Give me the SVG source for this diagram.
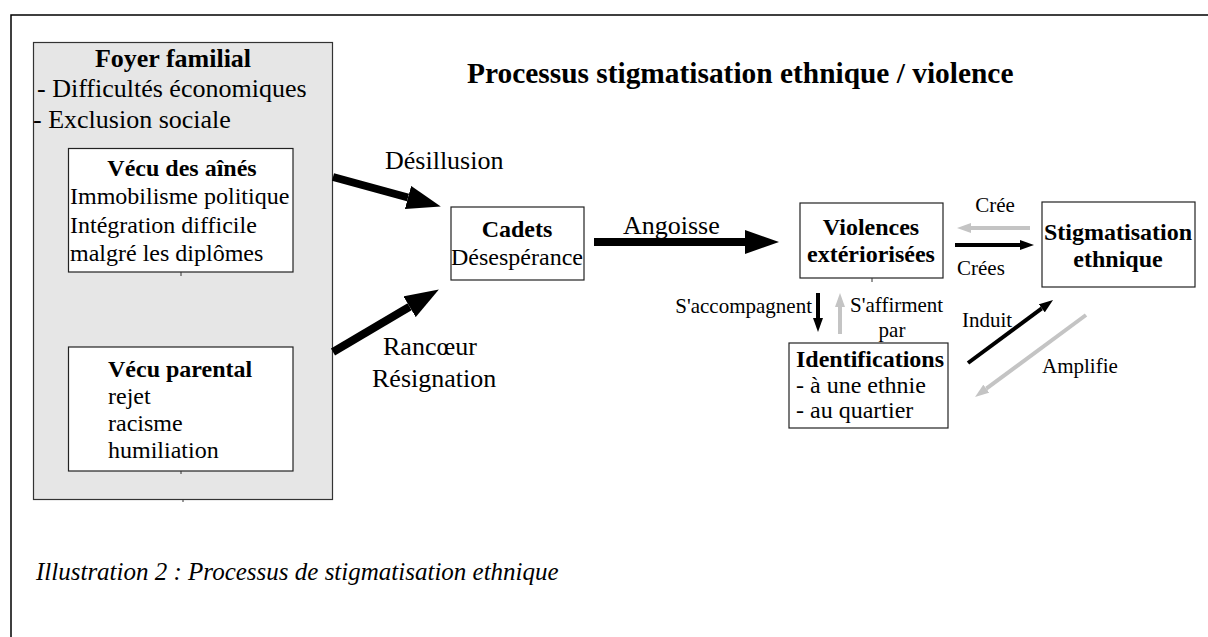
<svg xmlns="http://www.w3.org/2000/svg" width="1208" height="637" viewBox="0 0 1208 637">
<defs>
<style>
text{font-family:"Liberation Serif","Times New Roman",serif;fill:#000}
.b{font-weight:bold}
.c{text-anchor:middle}
.f26{font-size:26px}
.f24{font-size:24px}
.f21{font-size:21px}
.box{fill:#fff;stroke:#222;stroke-width:1.2}
.thick{stroke:#000;stroke-width:8;fill:none}
.thin{stroke:#000;stroke-width:4;fill:none}
.grey{stroke:#c4c4c4;stroke-width:4;fill:none}
</style>
<marker id="big" viewBox="0 0 34 24" refX="0" refY="12" markerWidth="34" markerHeight="24" markerUnits="userSpaceOnUse" orient="auto"><path d="M0,0 L34,12 L0,24 z" fill="#000"/></marker>
<marker id="sm" viewBox="0 0 14 10" refX="0" refY="5" markerWidth="14" markerHeight="10" markerUnits="userSpaceOnUse" orient="auto"><path d="M0,0 L14,5 L0,10 z" fill="#000"/></marker>
<marker id="smg" viewBox="0 0 14 10" refX="0" refY="5" markerWidth="14" markerHeight="10" markerUnits="userSpaceOnUse" orient="auto"><path d="M0,0 L14,5 L0,10 z" fill="#c4c4c4"/></marker>
</defs>
<rect width="1208" height="637" fill="#fff"/>
<path d="M11,637 V15 H1208" fill="none" stroke="#000" stroke-width="1.5"/>
<text x="467" y="83" class="b" font-size="29.4">Processus stigmatisation ethnique / violence</text>
<g id="foyer">
<rect x="33.5" y="42.5" width="299" height="457" fill="#e6e6e6" stroke="#333" stroke-width="1.2"/>
<line x1="183" y1="499" x2="183" y2="502" stroke="#333"/>
<text x="173" y="67" class="b c f26">Foyer familial</text>
<text x="37" y="97" class="f26">- Difficultés économiques</text>
<text x="33" y="128" class="f26">- Exclusion sociale</text>
</g>
<g id="aines">
<rect x="68.5" y="148.5" width="224.5" height="123.5" class="box"/>
<line x1="181" y1="272" x2="181" y2="276" stroke="#333"/>
<text x="182" y="176" class="b c f24">Vécu des aînés</text>
<text x="70" y="204" class="f24">Immobilisme politique</text>
<text x="70" y="233" class="f24">Intégration difficile</text>
<text x="70" y="261" class="f24">malgré les diplômes</text>
</g>
<g id="parental">
<rect x="68.5" y="347" width="224.5" height="124" class="box"/>
<line x1="181" y1="471" x2="181" y2="474" stroke="#333"/>
<text x="108" y="377" class="b f24">Vécu parental</text>
<text x="108" y="404" class="f24">rejet</text>
<text x="108" y="431" class="f24">racisme</text>
<text x="108" y="458" class="f24">humiliation</text>
</g>
<g id="cadets">
<rect x="451" y="207" width="133" height="73" class="box"/>
<text x="517" y="237" class="b c f24">Cadets</text>
<text x="517" y="265" class="c f24">Désespérance</text>
</g>
<g id="violences">
<rect x="800" y="203" width="143" height="75" class="box"/>
<line x1="872" y1="278" x2="872" y2="282" stroke="#333"/>
<text x="871" y="235" class="b c f24">Violences</text>
<text x="871" y="262" class="b c f24">extériorisées</text>
</g>
<g id="stigmatisation">
<rect x="1042" y="202" width="153" height="85" class="box"/>
<text x="1118" y="240" class="b c f24">Stigmatisation</text>
<text x="1118" y="267" class="b c f24">ethnique</text>
</g>
<g id="identifications">
<rect x="789" y="343" width="159" height="85" class="box"/>
<text x="796" y="367" class="b f24">Identifications</text>
<text x="796" y="393" class="f24">- à une ethnie</text>
<text x="796" y="418" class="f24">- au quartier</text>
</g>
<g id="connectors">
<line x1="333" y1="177" x2="408" y2="197.5" class="thick" marker-end="url(#big)"/>
<line x1="333" y1="352" x2="409.6" y2="306.8" class="thick" marker-end="url(#big)"/>
<line x1="594" y1="242" x2="745" y2="242" class="thick" stroke-width="9" marker-end="url(#big)"/>
<line x1="1030" y1="228" x2="971" y2="228" class="grey" marker-end="url(#smg)"/>
<line x1="955" y1="245" x2="1020" y2="245" class="thin" marker-end="url(#sm)"/>
<line x1="818" y1="293" x2="818" y2="318" class="thin" marker-end="url(#sm)"/>
<line x1="840" y1="334" x2="840" y2="307" class="grey" marker-end="url(#smg)"/>
<line x1="968" y1="363" x2="1041.8" y2="308.3" class="thin" marker-end="url(#sm)"/>
<line x1="1086" y1="315" x2="986.3" y2="388.7" class="grey" marker-end="url(#smg)"/>
<text x="385" y="169" class="f26">Désillusion</text>
<text x="383" y="355" class="f26">Rancœur</text>
<text x="372" y="387" class="f26">Résignation</text>
<text x="623" y="234" class="f26">Angoisse</text>
<text x="995" y="212" class="c f21">Crée</text>
<text x="957" y="275" class="f21">Crées</text>
<text x="812" y="313" class="f21" text-anchor="end">S'accompagnent</text>
<text x="850" y="312" class="f21">S'affirment</text>
<text x="892" y="337" class="c f21">par</text>
<text x="962" y="327" class="f21">Induit</text>
<text x="1042" y="373" class="f21">Amplifie</text>
</g>
<text x="36" y="580" font-size="25" font-style="italic">Illustration 2 : Processus de stigmatisation ethnique</text>
</svg>
